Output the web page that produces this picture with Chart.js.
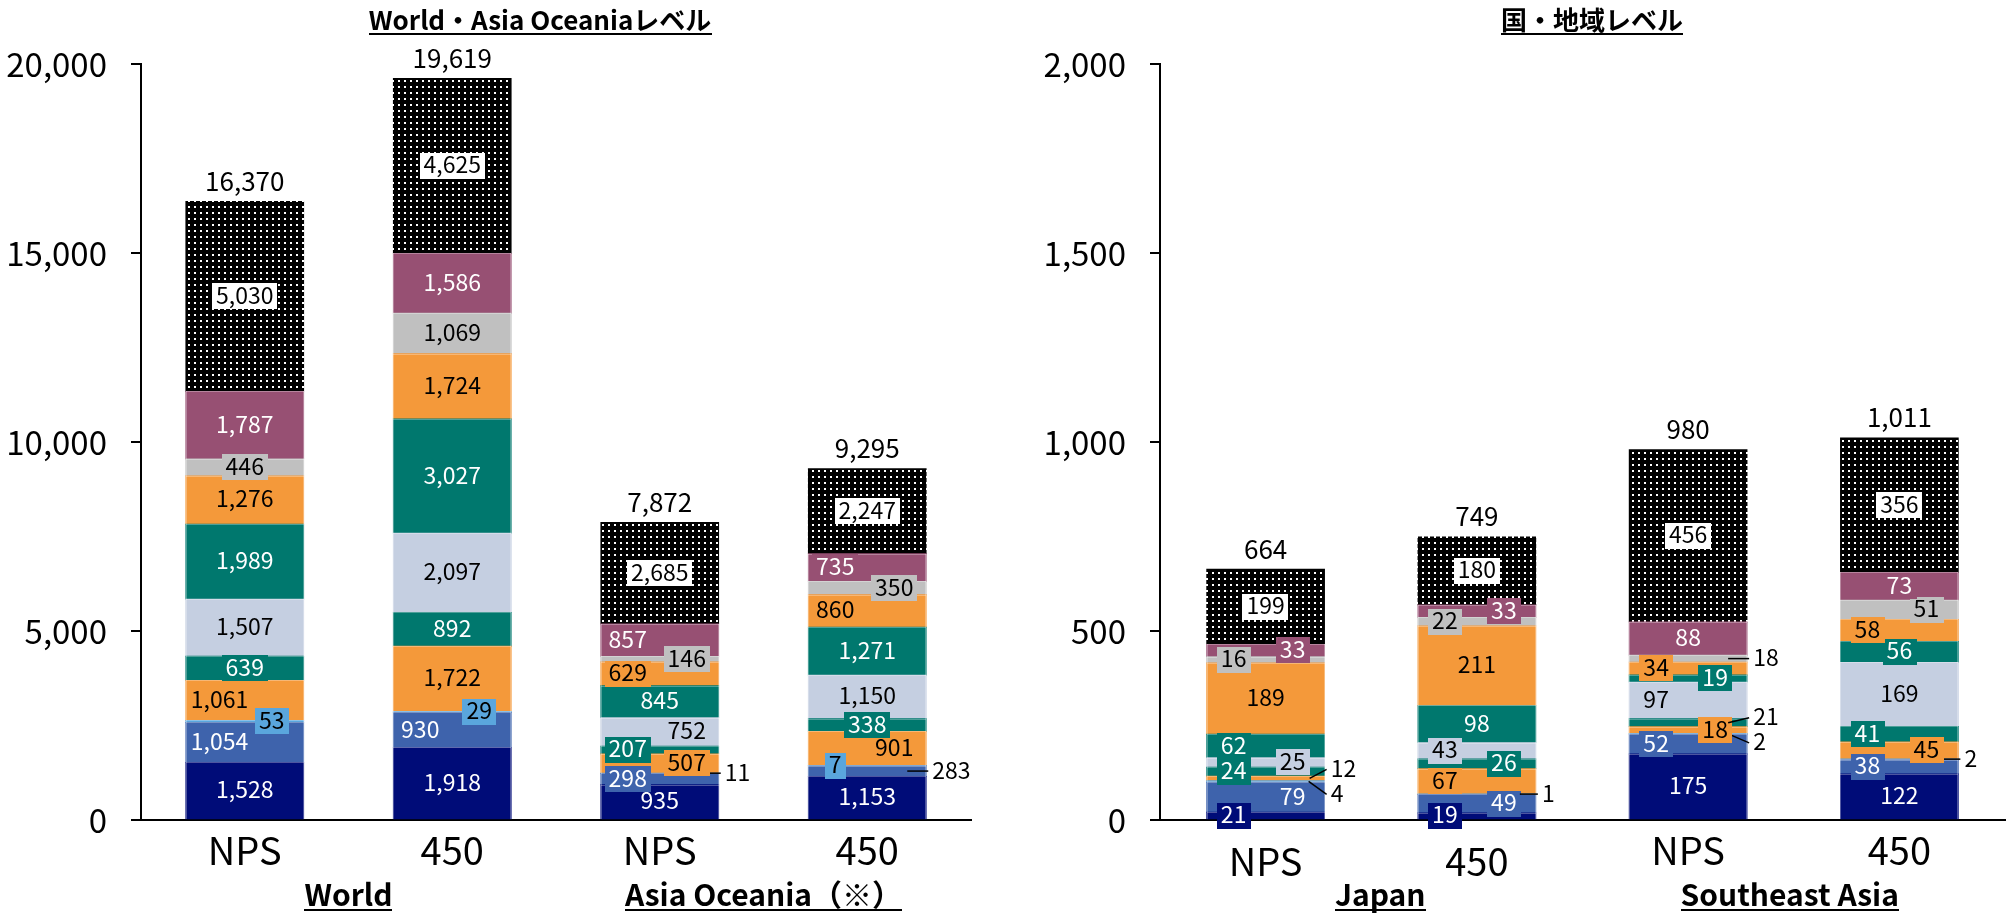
<!DOCTYPE html>
<html lang="ja">
<head>
<meta charset="utf-8">
<title>World・Asia Oceania / 国・地域レベル</title>
<script src="https://cdn.jsdelivr.net/npm/chart.js@4.4.1/dist/chart.umd.min.js"></script>
<style>
  html, body { margin: 0; padding: 0; background: #ffffff; }
  body { position: relative; width: 2007px; height: 913px; overflow: hidden; }
  .panel { position: absolute; top: 0; height: 913px; }
  #leftPanel { left: 0; width: 1000px; }
  #rightPanel { left: 1000px; width: 1007px; }
</style>
</head>
<body>
<div class="panel" id="leftPanel"><canvas id="leftChart"></canvas></div>
<div class="panel" id="rightPanel"><canvas id="rightChart"></canvas></div>
<script>
// ---------------- data: World / Asia Oceania ----------------
const leftTitle = 'World・Asia Oceaniaレベル';
const leftCategories = ['NPS', '450', 'NPS', '450'];
const leftGroups = ['World', 'Asia Oceania（※）'];
const leftYTicks = [0, 5000, 10000, 15000, 20000];

const leftNavy       = [1528, 1918,  935, 1153];
const leftBlue       = [1054,  930,  298,  283];
const leftLightBlue  = [  53,   29,   11,    7];
const leftOrangeLow  = [1061, 1722,  507,  901];
const leftTealLow    = [ 639,  892,  207,  338];
const leftPaleBlue   = [1507, 2097,  752, 1150];
const leftTealHigh   = [1989, 3027,  845, 1271];
const leftOrangeHigh = [1276, 1724,  629,  860];
const leftGray       = [ 446, 1069,  146,  350];
const leftPurple     = [1787, 1586,  857,  735];
const leftDotted     = [5030, 4625, 2685, 2247];

// ---------------- data: Japan / Southeast Asia ----------------
const rightTitle = '国・地域レベル';
const rightCategories = ['NPS', '450', 'NPS', '450'];
const rightGroups = ['Japan', 'Southeast Asia'];
const rightYTicks = [0, 500, 1000, 1500, 2000];

const rightNavy       = [ 21,  19, 175, 122];
const rightBlue       = [ 79,  49,  52,  38];
const rightLightBlue  = [  4,   1,   2,   2];
const rightOrangeLow  = [ 12,  67,  18,  45];
const rightTealLow    = [ 24,  26,  21,  41];
const rightPaleBlue   = [ 25,  43,  97, 169];
const rightTealHigh   = [ 62,  98,  19,  56];
const rightOrangeHigh = [189, 211,  34,  58];
const rightGray       = [ 16,  22,  18,  51];
const rightPurple     = [ 33,  33,  88,  73];
const rightDotted     = [199, 180, 456, 356];

// ---------------- styling ----------------
const FONT = "'Noto Sans CJK JP', 'Noto Sans', sans-serif";
Chart.defaults.font.family = FONT;
Chart.defaults.color = '#000000';

const LABEL_SIZE = 23;
const TOTAL_SIZE = 26;

// stacking order, bottom to top
const SERIES_STYLE = [
  { name: 'navy',       fill: '#000c78', text: '#ffffff' },
  { name: 'blue',       fill: '#3e63ac', text: '#ffffff' },
  { name: 'lightBlue',  fill: '#5aa6dd', text: '#000000' },
  { name: 'orangeLow',  fill: '#f4993a', text: '#000000' },
  { name: 'tealLow',    fill: '#00786e', text: '#ffffff' },
  { name: 'paleBlue',   fill: '#c5cfe1', text: '#000000' },
  { name: 'tealHigh',   fill: '#00786e', text: '#ffffff' },
  { name: 'orangeHigh', fill: '#f4993a', text: '#000000' },
  { name: 'gray',       fill: '#c0c0c0', text: '#000000' },
  { name: 'purple',     fill: '#975073', text: '#ffffff' },
  { name: 'dotted',     fill: null,      text: '#000000', box: '#ffffff' },
];
const DOTTED = SERIES_STYLE.length - 1;

// black fill with a grid of white dots
function dotPattern() {
  const tile = document.createElement('canvas');
  tile.width = 6; tile.height = 6;
  const t = tile.getContext('2d');
  t.fillStyle = '#000000'; t.fillRect(0, 0, 6, 6);
  t.fillStyle = '#ffffff'; t.fillRect(2, 2, 2, 2);
  return t.createPattern(tile, 'repeat');
}
const DOTS = dotPattern();

// label placement inside each block: C centre, L left, R right,
// or an outside label with a leader line {dy, inset}
const out = (dy, inset) => ({ dy, inset });
const leftPlacement = [
  ['C', 'C', 'C', 'C'],
  ['L', 'L', 'L', out(0, 19)],
  ['R', 'R', out(0, 12), 'L'],
  ['L', 'C', 'R', 'R'],
  ['C', 'C', 'L', 'C'],
  ['C', 'C', 'R', 'C'],
  ['C', 'C', 'C', 'C'],
  ['C', 'C', 'L', 'L'],
  ['C', 'C', 'R', 'R'],
  ['C', 'C', 'L', 'L'],
  ['C', 'C', 'C', 'C'],
];
const rightPlacement = [
  ['L', 'L', 'C', 'C'],
  ['R', 'R', 'L', 'L'],
  [out(13, 16), out(0, 16), out(9, 19), out(0, 19)],
  [out(-9, 15), 'L', 'R', 'R'],
  ['L', 'R', out(-5, 19), 'L'],
  ['R', 'L', 'L', 'C'],
  ['L', 'C', 'R', 'C'],
  ['C', 'C', 'L', 'L'],
  ['L', 'L', out(0, 19), 'R'],
  ['R', 'R', 'C', 'C'],
  ['C', 'C', 'C', 'C'],
];
const SHIFT = { C: 0, L: -32, R: 27 };

const fmt = v => v.toLocaleString('en-US');

function underlinedText(ctx, text, cx, baseline, size, lineY) {
  ctx.font = `bold ${size}px ${FONT}`;
  ctx.textAlign = 'center';
  ctx.textBaseline = 'alphabetic';
  ctx.fillStyle = '#000000';
  ctx.fillText(text, cx, baseline);
  const w = ctx.measureText(text).width;
  ctx.fillRect(Math.round(cx - w / 2), lineY, Math.round(w), 2);
}

// block edges, block values, totals, group names and panel title
const stackAnnotations = {
  id: 'stackAnnotations',
  afterDatasetsDraw(chart, args, opts) {
    const ctx = chart.ctx;
    ctx.save();
    // faint light edges around the coloured blocks
    chart.data.datasets.forEach((ds, si) => {
      if (si === DOTTED) return;
      chart.getDatasetMeta(si).data.forEach(bar => {
        const p = bar.getProps(['x', 'y', 'base', 'width'], true);
        const l = Math.round(p.x - p.width / 2), r = Math.round(p.x + p.width / 2);
        const t = Math.round(Math.min(p.y, p.base)), b = Math.round(Math.max(p.y, p.base));
        if (b - t < 1) return;
        ctx.fillStyle = 'rgba(255,255,255,0.3)';
        ctx.fillRect(l, t, r - l, 1);
        ctx.fillRect(l, t, 1, b - t);
        ctx.fillRect(r - 1, t, 1, b - t);
      });
    });

    ctx.font = `${LABEL_SIZE}px ${FONT}`;
    ctx.textBaseline = 'alphabetic';
    chart.data.datasets.forEach((ds, si) => {
      const style = SERIES_STYLE[si];
      chart.getDatasetMeta(si).data.forEach((bar, ci) => {
        const value = ds.data[ci];
        const p = bar.getProps(['x', 'y', 'base', 'width'], true);
        const cy = (p.y + p.base) / 2;
        const left = p.x - p.width / 2;
        const right = p.x + p.width / 2;
        const text = fmt(value);
        const place = opts.placement[si][ci];
        if (typeof place === 'object') {
          const ty = cy + place.dy;
          ctx.strokeStyle = '#000000';
          ctx.lineWidth = 1.5;
          ctx.beginPath();
          ctx.moveTo(right - place.inset, cy);
          ctx.lineTo(right + 2, ty);
          ctx.stroke();
          ctx.fillStyle = '#000000';
          ctx.textAlign = 'left';
          ctx.fillText(text, right + 6, ty + 0.33 * LABEL_SIZE);
          return;
        }
        const tw = ctx.measureText(text).width;
        let tx = p.x + SHIFT[place];
        // keep wide labels inside the bar
        tx = Math.max(tx, left + tw / 2 + 5);
        tx = Math.min(tx, right - tw / 2 - 5);
        ctx.fillStyle = style.box || style.fill;
        ctx.fillRect(Math.round(tx - tw / 2 - 4), Math.round(cy - 13), Math.round(tw + 8), 26);
        ctx.fillStyle = style.text;
        ctx.textAlign = 'center';
        ctx.fillText(text, tx, cy + 0.33 * LABEL_SIZE);
      });
    });

    // stack totals above each bar
    const yScale = chart.scales.y;
    const xScale = chart.scales.x;
    ctx.font = `${TOTAL_SIZE}px ${FONT}`;
    ctx.textAlign = 'center';
    ctx.fillStyle = '#000000';
    chart.data.labels.forEach((lab, ci) => {
      const total = chart.data.datasets.reduce((s, ds) => s + ds.data[ci], 0);
      const ty = yScale.getPixelForValue(total) - 19;
      ctx.fillText(fmt(total), xScale.getPixelForValue(ci), ty + 0.33 * TOTAL_SIZE);
    });

    // group names under each pair of bars
    opts.groups.forEach((g, gi) => {
      const cx = (xScale.getPixelForValue(gi * 2) + xScale.getPixelForValue(gi * 2 + 1)) / 2;
      underlinedText(ctx, g, cx + opts.groupShift[gi], 906, 30, 909);
    });

    // panel title
    underlinedText(ctx, opts.title, opts.titleX, 30, 26, 33);
    ctx.restore();
  }
};

function buildPanel(canvasId, cfg) {
  const datasets = cfg.series.map((values, i) => ({
    label: SERIES_STYLE[i].name,
    data: values,
    backgroundColor: i === DOTTED ? DOTS : SERIES_STYLE[i].fill,
    borderWidth: 0,
    barThickness: 118,
  }));
  const yMax = cfg.yTicks[cfg.yTicks.length - 1];
  const yStep = cfg.yTicks[1] - cfg.yTicks[0];
  return new Chart(document.getElementById(canvasId), {
    type: 'bar',
    data: { labels: cfg.categories, datasets },
    options: {
      responsive: true,
      maintainAspectRatio: false,
      animation: false,
      devicePixelRatio: 1,
      layout: { padding: { top: 64, right: cfg.padRight, bottom: 0, left: 0 } },
      plugins: {
        legend: { display: false },
        tooltip: { enabled: false },
        stackAnnotations: {
          placement: cfg.placement,
          groups: cfg.groups,
          groupShift: cfg.groupShift,
          title: cfg.title,
          titleX: cfg.titleX,
        },
      },
      scales: {
        x: {
          stacked: true,
          grid: { display: false, drawTicks: false, tickLength: 0 },
          border: { display: true, color: '#000000', width: 2 },
          ticks: {
            color: '#000000',
            // taller line box pushes a category name further down
            font: c => ({ size: 38, lineHeight: cfg.tickLineHeight[c.index] || 1.2 }),
            padding: 8,
            maxRotation: 0,
          },
          afterFit: s => { s.height = 93; },
        },
        y: {
          stacked: true,
          min: 0,
          max: yMax,
          ticks: {
            stepSize: yStep,
            color: '#000000',
            font: { size: 33 },
            padding: 24,
            callback: v => fmt(v),
          },
          grid: { display: true, drawOnChartArea: false, drawTicks: true, tickLength: 10, color: '#000000', lineWidth: 2 },
          border: { display: true, color: '#000000', width: 2 },
          afterFit: s => { s.width = cfg.axisWidth; },
        },
      },
    },
    plugins: [stackAnnotations],
  });
}

buildPanel('leftChart', {
  categories: leftCategories,
  groups: leftGroups,
  groupShift: [0, 0],
  title: leftTitle,
  titleX: 540,
  yTicks: leftYTicks,
  axisWidth: 141,
  padRight: 29,
  tickLineHeight: [1.2, 1.2, 1.2, 1.2],
  placement: leftPlacement,
  series: [leftNavy, leftBlue, leftLightBlue, leftOrangeLow, leftTealLow, leftPaleBlue,
           leftTealHigh, leftOrangeHigh, leftGray, leftPurple, leftDotted],
});

buildPanel('rightChart', {
  categories: rightCategories,
  groups: rightGroups,
  groupShift: [9, -4],
  title: rightTitle,
  titleX: 592,
  yTicks: rightYTicks,
  axisWidth: 160,
  padRight: 2,
  tickLineHeight: [1.75, 1.75, 1.2, 1.2],
  placement: rightPlacement,
  series: [rightNavy, rightBlue, rightLightBlue, rightOrangeLow, rightTealLow, rightPaleBlue,
           rightTealHigh, rightOrangeHigh, rightGray, rightPurple, rightDotted],
});
</script>
</body>
</html>
